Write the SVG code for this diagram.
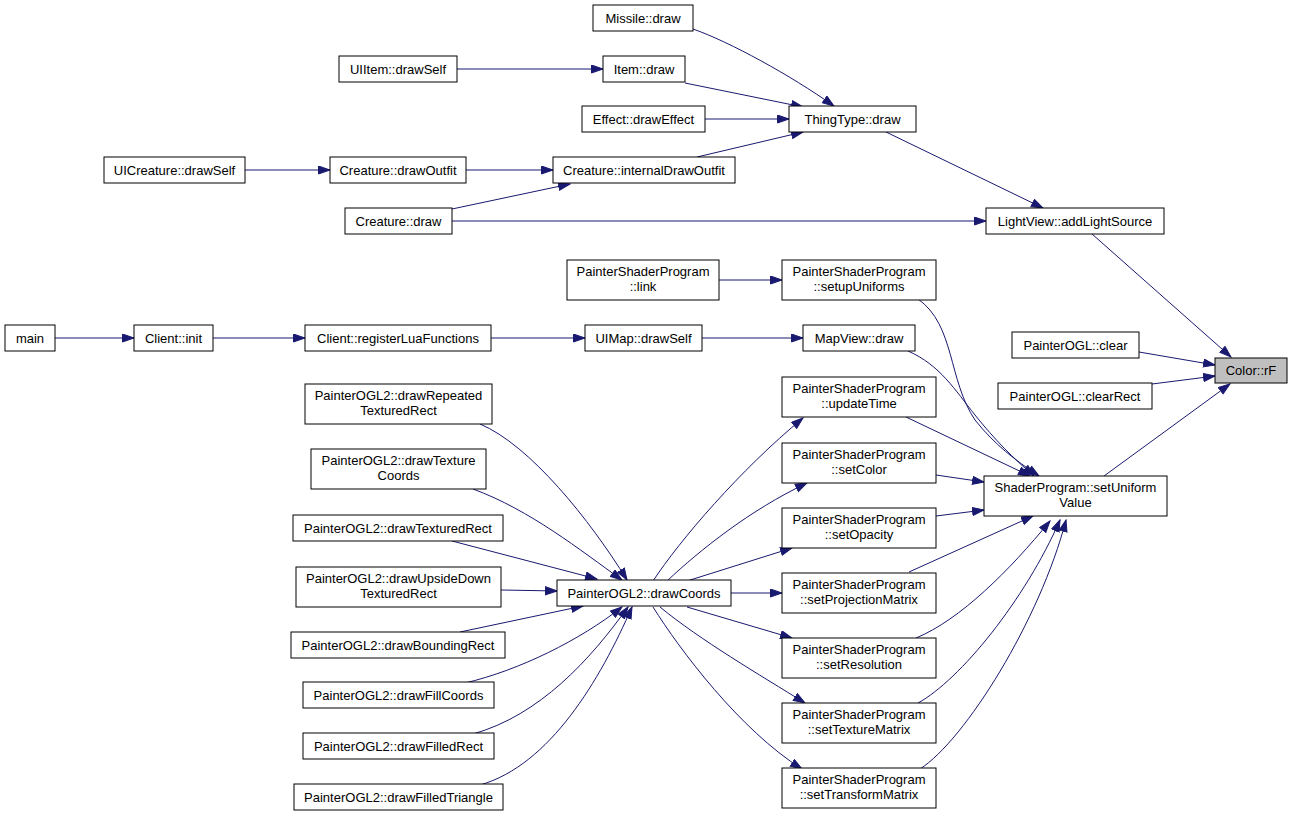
<svg xmlns="http://www.w3.org/2000/svg" width="1292" height="816" viewBox="0 0 1292 816">
<style>
.n rect{fill:#fff;stroke:#000;stroke-width:1}
.root rect{fill:#bfbfbf}
text{font-family:"Liberation Sans",Arial,sans-serif;font-size:13px;text-anchor:middle;fill:#000}
.e path{fill:none;stroke:#191970;stroke-width:1;marker-end:url(#ah)}
</style>
<defs>
<marker id="ah" markerUnits="userSpaceOnUse" markerWidth="13" markerHeight="10" refX="12" refY="4.5" orient="auto">
<path d="M0.5,0.5 L12,4.5 L0.5,8.5 z" fill="#191970" stroke="#191970" stroke-width="1"/>
</marker>
</defs>
<rect width="1292" height="816" fill="#fff"/>
<g class="e" id="edges">
<path d="M693,29 C730,42 790,75 834,106"/>
<path d="M685,83 L803,107"/>
<path d="M705,119 L789,119"/>
<path d="M697,157 L803,132"/>
<path d="M457,69 L603,69"/>
<path d="M245,170 L330,170"/>
<path d="M466,170 L553,170"/>
<path d="M452,209 L570,184"/>
<path d="M452,221 L986,221"/>
<path d="M886,132 L1043,208"/>
<path d="M1092,234 L1231,357"/>
<path d="M1139,352 L1215,365"/>
<path d="M1152,384 L1215,376"/>
<path d="M1104,476 L1230,384"/>
<path d="M719,280 L782,280"/>
<path d="M918,299 C955,325 948,380 975,420 C995,445 1015,460 1039,476"/>
<path d="M908,351 C940,365 955,390 975,415 C995,440 1013,458 1034,476"/>
<path d="M55,338 L134,338"/>
<path d="M213,338 L305,338"/>
<path d="M491,338 L585,338"/>
<path d="M702,338 L803,338"/>
<path d="M906,417 L1030,476"/>
<path d="M936,475 L984,482"/>
<path d="M936,516 L984,510"/>
<path d="M909,572 L1033,516"/>
<path d="M916,638 C960,620 1010,570 1050,521"/>
<path d="M918,703 C960,680 1025,600 1060,520"/>
<path d="M920,769 C965,740 1040,620 1066,520"/>
<path d="M653,581 C680,540 740,470 803,418"/>
<path d="M667,581 C700,550 750,510 807,483"/>
<path d="M687,581 L792,548"/>
<path d="M731,593 L782,593"/>
<path d="M687,607 L792,638"/>
<path d="M660,607 C700,640 760,675 805,703"/>
<path d="M653,607 C680,650 740,730 802,769"/>
<path d="M480,424 C530,445 590,520 627,580"/>
<path d="M473,489 C530,510 580,550 622,580"/>
<path d="M452,541 L597,579"/>
<path d="M501,590 L557,591"/>
<path d="M460,632 L583,606"/>
<path d="M465,683 C520,670 580,640 622,607"/>
<path d="M473,734 C540,715 590,660 628,607"/>
<path d="M480,785 C550,765 600,680 632,607"/>
</g>
<g class="n" id="missile_draw"><rect x="593" y="5" width="100" height="26"/><text x="643" y="22.5">Missile::draw</text></g>
<g class="n" id="uiitem_drawself"><rect x="339" y="56" width="118" height="26"/><text x="398" y="73.5">UIItem::drawSelf</text></g>
<g class="n" id="item_draw"><rect x="603" y="56" width="82" height="26"/><text x="644" y="73.5">Item::draw</text></g>
<g class="n" id="effect_draweffect"><rect x="582" y="106" width="123" height="26"/><text x="643.5" y="123.5">Effect::drawEffect</text></g>
<g class="n" id="thingtype_draw"><rect x="789" y="106" width="127" height="26"/><text x="852.5" y="123.5">ThingType::draw</text></g>
<g class="n" id="uicreature_drawself"><rect x="104" y="157" width="141" height="26"/><text x="174.5" y="174.5">UICreature::drawSelf</text></g>
<g class="n" id="creature_drawoutfit"><rect x="330" y="157" width="136" height="26"/><text x="398" y="174.5">Creature::drawOutfit</text></g>
<g class="n" id="creature_internaldrawoutfit"><rect x="553" y="157" width="182" height="26"/><text x="644" y="174.5">Creature::internalDrawOutfit</text></g>
<g class="n" id="creature_draw"><rect x="345" y="208" width="107" height="26"/><text x="398.5" y="225.5">Creature::draw</text></g>
<g class="n" id="lightview_addlightsource"><rect x="986" y="208" width="178" height="26"/><text x="1075" y="225.5">LightView::addLightSource</text></g>
<g class="n" id="psp_link"><rect x="567" y="260" width="152" height="40"/><text x="643" y="275.5">PainterShaderProgram</text><text x="643" y="290.5">::link</text></g>
<g class="n" id="psp_setupuniforms"><rect x="782" y="260" width="154" height="40"/><text x="859" y="275.5">PainterShaderProgram</text><text x="859" y="290.5">::setupUniforms</text></g>
<g class="n" id="main"><rect x="5" y="325" width="50" height="26"/><text x="30" y="342.5">main</text></g>
<g class="n" id="client_init"><rect x="134" y="325" width="79" height="26"/><text x="173.5" y="342.5">Client::init</text></g>
<g class="n" id="client_registerluafunctions"><rect x="305" y="325" width="186" height="26"/><text x="398" y="342.5">Client::registerLuaFunctions</text></g>
<g class="n" id="uimap_drawself"><rect x="585" y="325" width="117" height="26"/><text x="643.5" y="342.5">UIMap::drawSelf</text></g>
<g class="n" id="mapview_draw"><rect x="803" y="325" width="112" height="26"/><text x="859" y="342.5">MapView::draw</text></g>
<g class="n" id="painterogl_clear"><rect x="1012" y="332" width="127" height="26"/><text x="1075.5" y="349.5">PainterOGL::clear</text></g>
<g class="n" id="painterogl_clearrect"><rect x="998" y="383" width="154" height="26"/><text x="1075" y="400.5">PainterOGL::clearRect</text></g>
<g class="n root" id="color_rf"><rect x="1215" y="358" width="72" height="25"/><text x="1251" y="375">Color::rF</text></g>
<g class="n" id="psp_updatetime"><rect x="782" y="377" width="154" height="40"/><text x="859" y="392.5">PainterShaderProgram</text><text x="859" y="407.5">::updateTime</text></g>
<g class="n" id="ogl2_drawrepeatedtexturedrect"><rect x="305" y="384" width="187" height="40"/><text x="398.5" y="399.5">PainterOGL2::drawRepeated</text><text x="398.5" y="414.5">TexturedRect</text></g>
<g class="n" id="psp_setcolor"><rect x="782" y="443" width="154" height="40"/><text x="859" y="458.5">PainterShaderProgram</text><text x="859" y="473.5">::setColor</text></g>
<g class="n" id="ogl2_drawtexturecoords"><rect x="311" y="449" width="175" height="40"/><text x="398.5" y="464.5">PainterOGL2::drawTexture</text><text x="398.5" y="479.5">Coords</text></g>
<g class="n" id="shaderprogram_setuniformvalue"><rect x="984" y="476" width="183" height="40"/><text x="1075.5" y="491.5">ShaderProgram::setUniform</text><text x="1075.5" y="506.5">Value</text></g>
<g class="n" id="psp_setopacity"><rect x="782" y="508" width="154" height="40"/><text x="859" y="523.5">PainterShaderProgram</text><text x="859" y="538.5">::setOpacity</text></g>
<g class="n" id="ogl2_drawtexturedrect"><rect x="293" y="515" width="210" height="26"/><text x="398" y="532.5">PainterOGL2::drawTexturedRect</text></g>
<g class="n" id="ogl2_drawupsidedowntexturedrect"><rect x="296" y="567" width="205" height="40"/><text x="398.5" y="582.5">PainterOGL2::drawUpsideDown</text><text x="398.5" y="597.5">TexturedRect</text></g>
<g class="n" id="ogl2_drawcoords"><rect x="557" y="580" width="174" height="26"/><text x="644" y="597.5">PainterOGL2::drawCoords</text></g>
<g class="n" id="psp_setprojectionmatrix"><rect x="782" y="573" width="154" height="40"/><text x="859" y="588.5">PainterShaderProgram</text><text x="859" y="603.5">::setProjectionMatrix</text></g>
<g class="n" id="ogl2_drawboundingrect"><rect x="291" y="632" width="214" height="26"/><text x="398" y="649.5">PainterOGL2::drawBoundingRect</text></g>
<g class="n" id="psp_setresolution"><rect x="782" y="638" width="154" height="40"/><text x="859" y="653.5">PainterShaderProgram</text><text x="859" y="668.5">::setResolution</text></g>
<g class="n" id="ogl2_drawfillcoords"><rect x="303" y="682" width="191" height="26"/><text x="398.5" y="699.5">PainterOGL2::drawFillCoords</text></g>
<g class="n" id="psp_settexturematrix"><rect x="782" y="703" width="154" height="40"/><text x="859" y="718.5">PainterShaderProgram</text><text x="859" y="733.5">::setTextureMatrix</text></g>
<g class="n" id="ogl2_drawfilledrect"><rect x="303" y="733" width="191" height="26"/><text x="398.5" y="750.5">PainterOGL2::drawFilledRect</text></g>
<g class="n" id="psp_settransformmatrix"><rect x="782" y="768" width="154" height="40"/><text x="859" y="783.5">PainterShaderProgram</text><text x="859" y="798.5">::setTransformMatrix</text></g>
<g class="n" id="ogl2_drawfilledtriangle"><rect x="294" y="784" width="209" height="26"/><text x="398.5" y="801.5">PainterOGL2::drawFilledTriangle</text></g>
</svg>
